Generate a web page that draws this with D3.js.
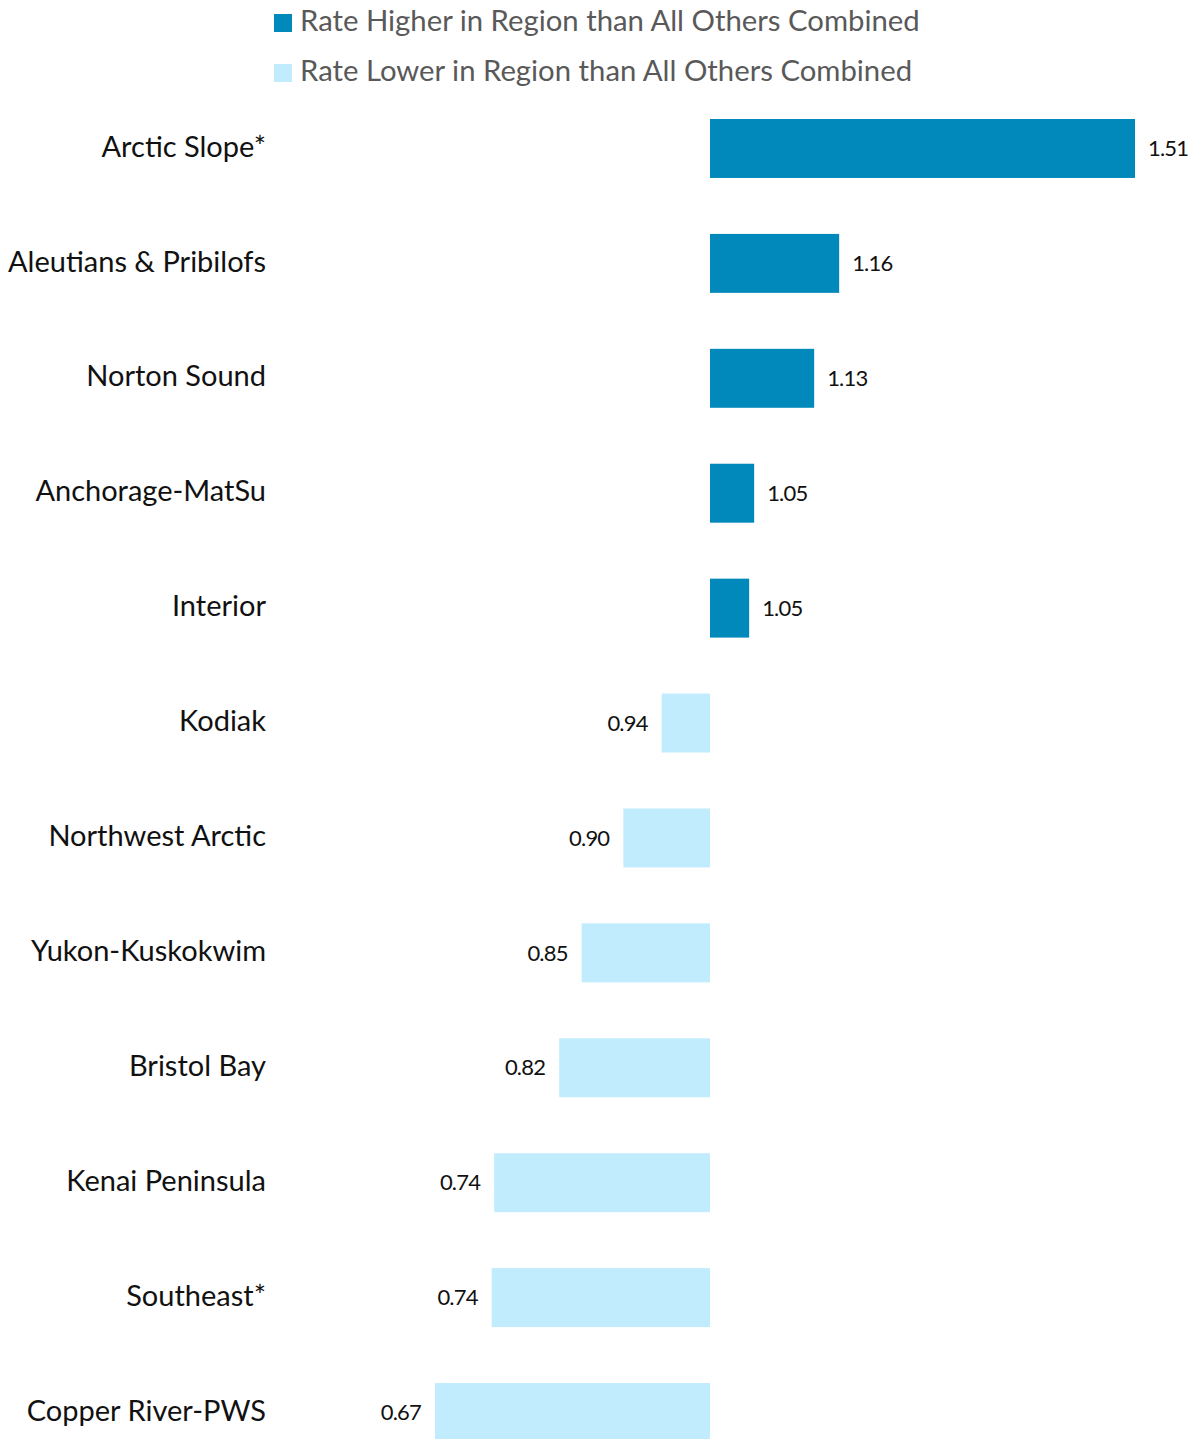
<!DOCTYPE html>
<html><head><meta charset="utf-8">
<script src="https://cdn.jsdelivr.net/npm/d3@7"></script>
<style>body{margin:0;background:#fff}svg{display:block}</style>
</head><body>
<script>
const categories = ["Arctic Slope*","Aleutians & Pribilofs","Norton Sound","Anchorage-MatSu","Interior","Kodiak","Northwest Arctic","Yukon-Kuskokwim","Bristol Bay","Kenai Peninsula","Southeast*","Copper River-PWS"];
const values = [1.51,1.155,1.125,1.053,1.047,0.942,0.896,0.846,0.819,0.741,0.738,0.67];
const valueLabels = ["1.51","1.16","1.13","1.05","1.05","0.94","0.90","0.85","0.82","0.74","0.74","0.67"];
const legendLabels = ["Rate Higher in Region than All Others Combined","Rate Lower in Region than All Others Combined"];
const baselineValue = 1.0;

const W = 1190, H = 1439;
const colorHigh = "#0089BA", colorLow = "#C0ECFD";
const font = "Lato, 'Open Sans', sans-serif";

const svg = d3.select("body").append("svg").attr("width", W).attr("height", H);

const x = d3.scaleLinear().domain([0.67, 1.51]).range([435, 1135]);
const y = d3.scaleBand().domain(categories).range([119, 1442]).paddingInner(0.487).paddingOuter(0);

const rows = svg.selectAll("g.row").data(categories.map((c,i)=>({c, v: values[i], l: valueLabels[i]})))
  .enter().append("g");

rows.append("rect")
  .attr("x", d => Math.min(x(d.v), x(baselineValue)))
  .attr("y", d => y(d.c))
  .attr("width", d => Math.abs(x(d.v) - x(baselineValue)))
  .attr("height", y.bandwidth())
  .attr("fill", d => d.v >= baselineValue ? colorHigh : colorLow);

rows.append("text")
  .attr("x", 266)
  .attr("y", d => y(d.c) + y.bandwidth()/2 - 2)
  .attr("dy", "0.35em")
  .attr("text-anchor", "end")
  .attr("font-family", font)
  .attr("font-size", 29)
  .attr("fill", "#111")
  .text(d => d.c);

rows.append("text")
  .attr("x", d => d.v >= baselineValue ? x(d.v) + 13 : x(d.v) - 14)
  .attr("y", d => y(d.c) + y.bandwidth()/2)
  .attr("dy", "0.35em")
  .attr("text-anchor", d => d.v >= baselineValue ? "start" : "end")
  .attr("font-family", font)
  .attr("font-size", 22)
  .attr("letter-spacing", -0.8)
  .attr("fill", "#111")
  .text(d => d.l);

const legend = svg.selectAll("g.legend").data(legendLabels).enter().append("g")
  .attr("transform", (d,i) => `translate(274,${14 + i*50})`);
legend.append("rect").attr("width", 18).attr("height", 18)
  .attr("fill", (d,i) => i === 0 ? colorHigh : colorLow);
legend.append("text").attr("x", 26).attr("y", 7).attr("dy", "0.35em")
  .attr("font-family", font).attr("font-size", 29.3).attr("fill", "#595959")
  .text(d => d);
</script>
</body></html>
